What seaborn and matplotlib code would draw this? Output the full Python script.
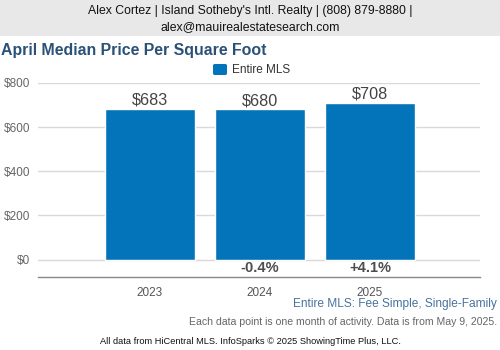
import matplotlib
matplotlib.use("Agg")
import matplotlib.pyplot as plt
import seaborn as sns
import pandas as pd
from matplotlib.patches import FancyBboxPatch, Rectangle

years = ["2023", "2024", "2025"]
values = [683, 680, 708]
value_labels = ["$683", "$680", "$708"]
changes = ["", "-0.4%", "+4.1%"]
yticks = [0, 200, 400, 600, 800]
ytick_labels = ["$0", "$200", "$400", "$600", "$800"]

sns.set_theme(style="white")
plt.rcParams['font.family'] = ['Liberation Sans', 'DejaVu Sans']

BAR = "#0474ba"
df = pd.DataFrame({"year": years, "value": values})

fig = plt.figure(figsize=(5, 3.5), dpi=100)
W, H = 500, 350

# header band
fig.patches.append(Rectangle((0, 1 - 36 / H), 1, 36 / H, transform=fig.transFigure,
                             facecolor="#e8e8e8", edgecolor="none", zorder=0))
fig.text(0.5, 1 - 11 / H, "Alex Cortez | Island Sotheby's Intl. Realty | (808) 879-8880 |",
         ha="center", va="center", fontsize=8.8, color="#111111")
fig.text(0.5, 1 - 27 / H, "alex@mauirealestatesearch.com",
         ha="center", va="center", fontsize=8.8, color="#111111")

fig.text(1 / W, 1 - 50 / H, "April Median Price Per Square Foot", ha="left", va="center",
         fontsize=11.4, fontweight="bold", color="#2c5177")

# legend
fig.patches.append(FancyBboxPatch((213 / W, 1 - 75 / H), 14 / W, 11 / H,
                                  boxstyle="round,pad=0,rounding_size=0.004",
                                  transform=fig.transFigure, facecolor=BAR, edgecolor="none"))
fig.text(232 / W, 1 - 70 / H, "Entire MLS", ha="left", va="center", fontsize=8.5, color="#333333")

ax = fig.add_axes([38 / W, 1 - 277 / H, 442 / W, (277 - 83) / H])
sns.barplot(data=df, x="year", y="value", color=BAR, saturation=1, width=0.818, ax=ax, zorder=3)

ax.set_ylim(-79.3, 800)
ax.set_xlim(-1.018, 3.0)
ax.set_yticks(yticks)
ax.set_yticklabels(ytick_labels)
ax.yaxis.grid(True, color="#d9d9d9", linewidth=1, zorder=0)
ax.set_axisbelow(True)
for s in ["top", "right", "left"]:
    ax.spines[s].set_visible(False)
ax.spines["bottom"].set_color("#888888")
ax.spines["bottom"].set_linewidth(1)
ax.tick_params(axis="y", length=0, labelsize=8.5, labelcolor="#666666", pad=5.8)
ax.tick_params(axis="x", length=0, labelsize=8.5, labelcolor="#555555", pad=7)
ax.set_xlabel("")
ax.set_ylabel("")

for i, (v, lab, ch) in enumerate(zip(values, value_labels, changes)):
    ax.annotate(lab, (i, v), xytext=(0, 1), textcoords="offset points",
                ha="center", va="bottom", fontsize=11.7, color="#444444")
    if ch:
        ax.text(i, -40, ch, ha="center", va="center", fontsize=10.5,
                fontweight="bold", color="#4d4d4d")

fig.text(497 / W, 1 - 304 / H, "Entire MLS: Fee Simple, Single-Family", ha="right", va="center",
         fontsize=8.6, color="#4a72a0")
fig.text(497 / W, 1 - 322 / H, "Each data point is one month of activity. Data is from May 9, 2025.",
         ha="right", va="center", fontsize=7.55, color="#666666")
fig.text(250 / W, 1 - 341 / H, "All data from HiCentral MLS. InfoSparks \u00a9 2025 ShowingTime Plus, LLC.",
         ha="center", va="center", fontsize=6.7, color="#111111")

fig.savefig("out.png", dpi=100)
